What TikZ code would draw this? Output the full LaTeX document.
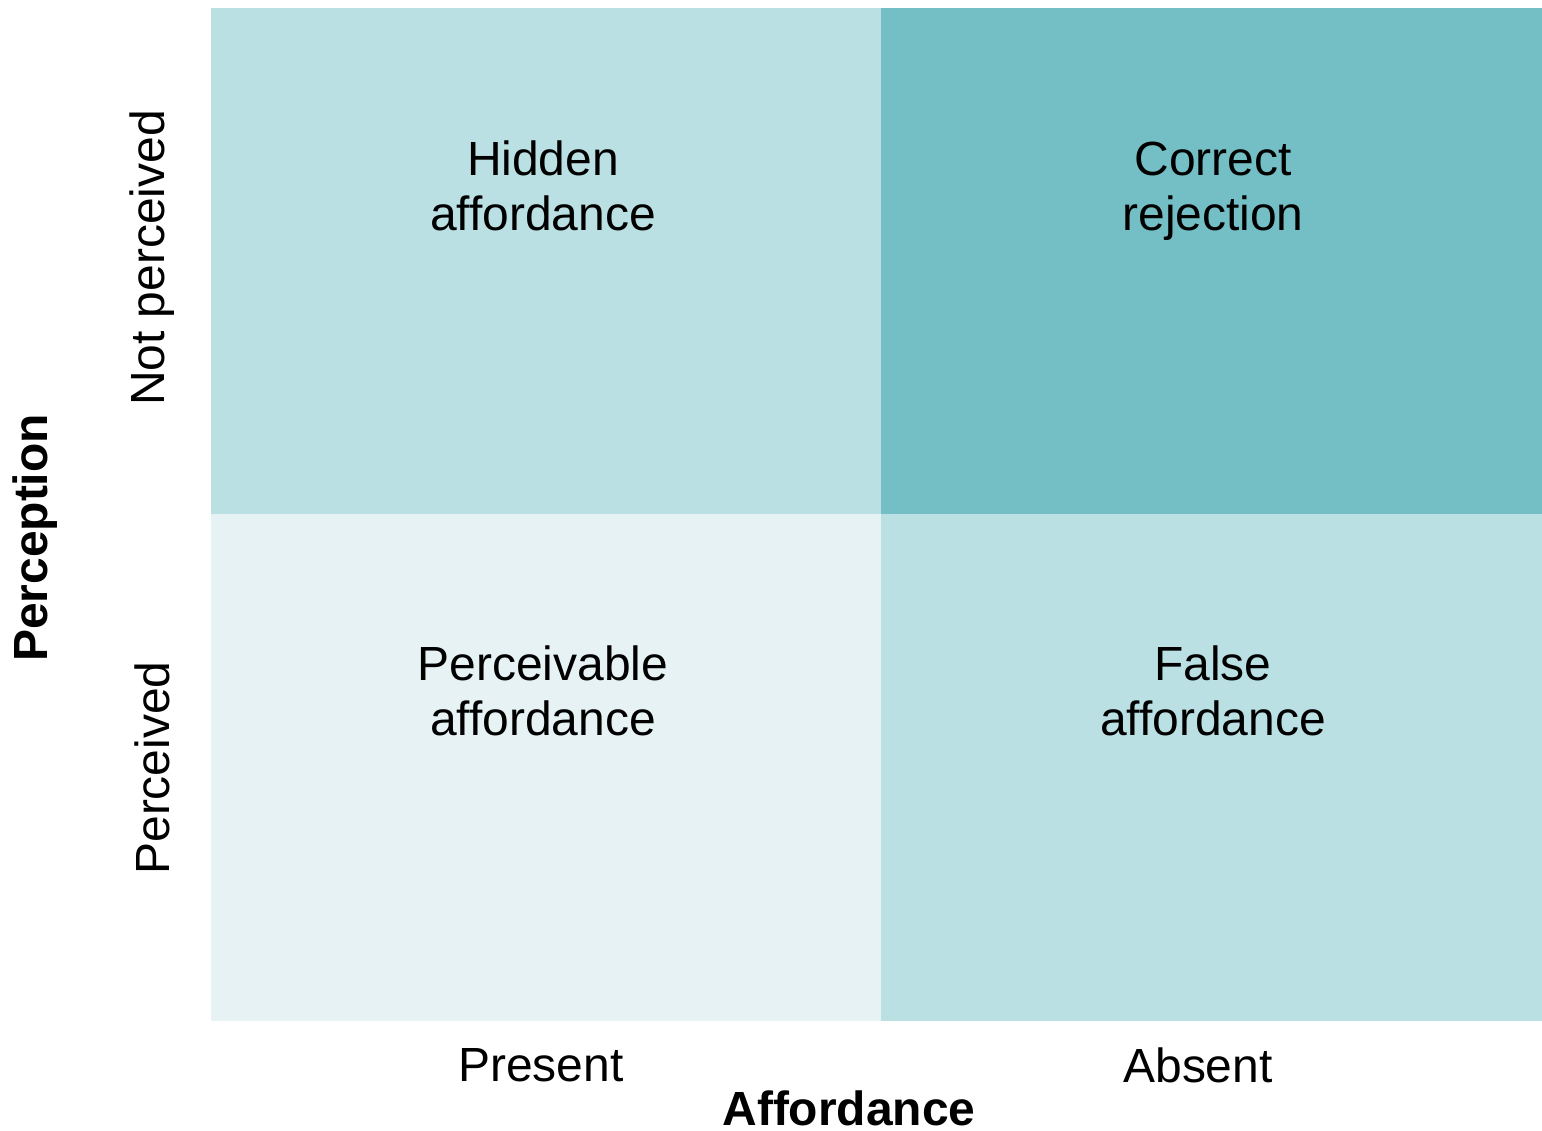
\documentclass[tikz,border=0pt]{standalone}
\usepackage{fontspec}
\setmainfont{Liberation Sans}
\usetikzlibrary{positioning}
\definecolor{lightteal}{HTML}{BAE0E3}
\definecolor{darkteal}{HTML}{74BFC5}
\definecolor{paleteal}{HTML}{E6F2F4}
\tikzset{
  celltext/.style={align=center, font=\fontsize{27.3}{31.7}\selectfont, inner sep=0pt},
  axistext/.style={font=\fontsize{27.3}{31.7}\selectfont, inner sep=0pt},
  axistitle/.style={font=\fontsize{27.3}{31.7}\selectfont\bfseries, inner sep=0pt}
}
\begin{document}
\begin{tikzpicture}[x=0.02cm, y=-0.02cm]
\useasboundingbox (0,0) rectangle (1542,1131);
% cells
\fill [lightteal] (211,8) rectangle (881,514);
\fill [darkteal] (881,8) rectangle (1542,514);
\fill [paleteal] (211,514) rectangle (881,1021);
\fill [lightteal] (881,514) rectangle (1542,1021);
% cell labels
\node [celltext] (hidden) at (543,192) {\strut Hidden\\\strut affordance};
\node [celltext] (correct) at (1213,192) {\strut Correct\\\strut rejection};
\node [celltext] (perceivable) at (543,697) {\strut Perceivable\\\strut affordance};
\node [celltext] (false) at (1213,697) {\strut False\\\strut affordance};
% axes
\node [axistext] (present) at (541,1065) {Present};
\node [axistext] (absent) at (1198,1065) {Absent};
\node [axistitle] (affordance) at (849,1108) {Affordance};
\node [axistext, rotate=90] (notperceived) at (152,258) {Not perceived};
\node [axistext, rotate=90] (perceived) at (152,768) {Perceived};
\node [axistitle, rotate=90] (perception) at (35,538) {Perception};
\end{tikzpicture}
\end{document}
